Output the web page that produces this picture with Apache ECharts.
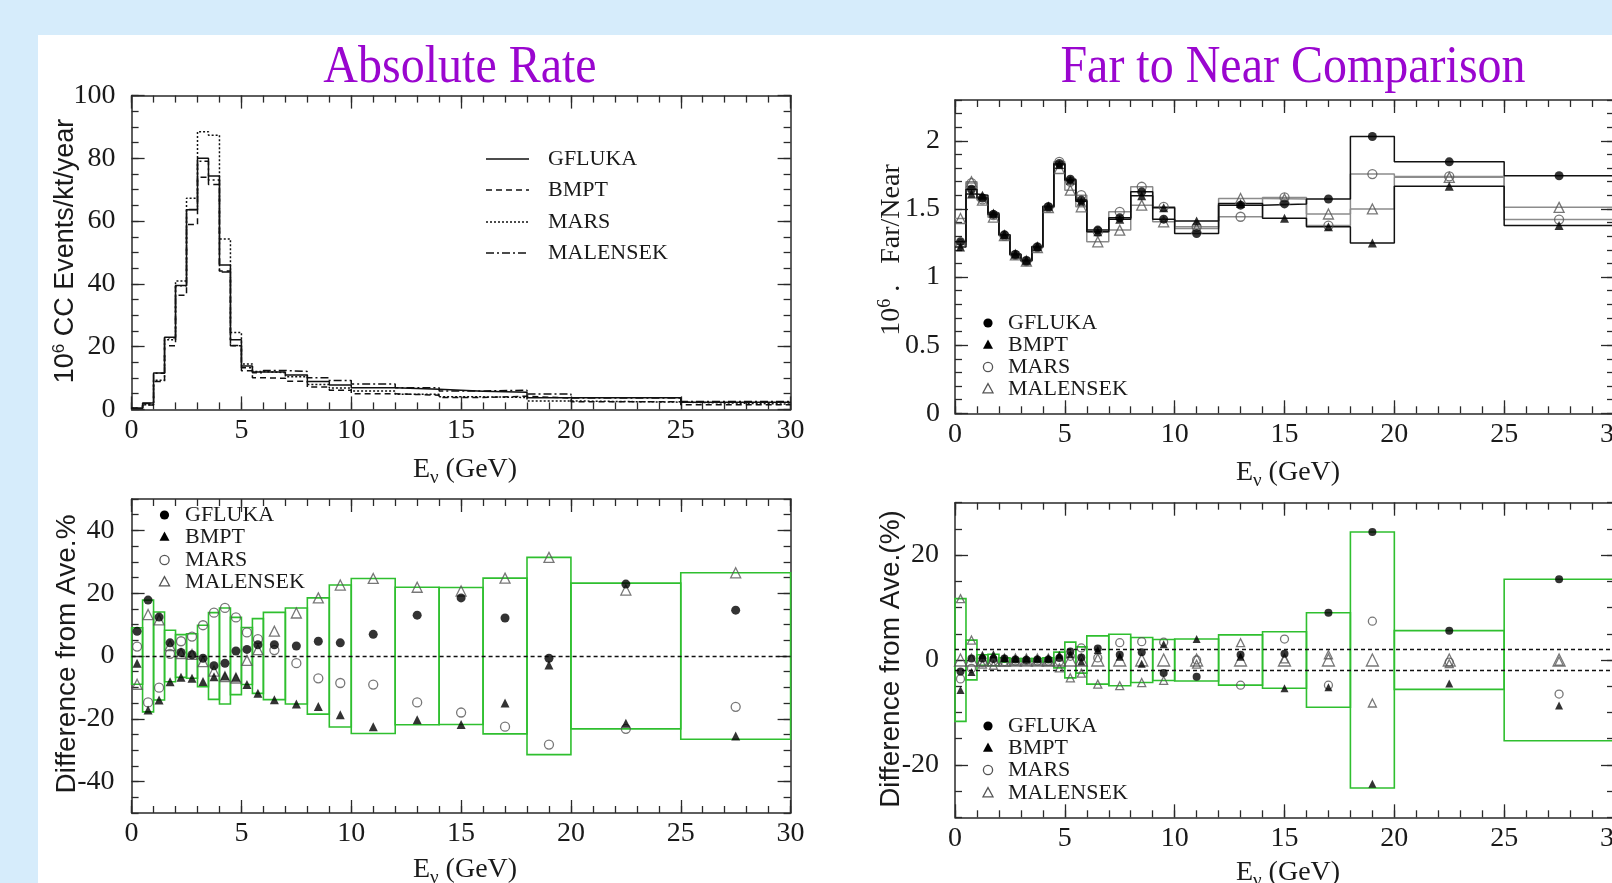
<!DOCTYPE html>
<html><head><meta charset="utf-8">
<script src="https://cdn.jsdelivr.net/npm/echarts@6/dist/echarts.min.js"></script>
<style>html,body{margin:0;padding:0;background:#d6ecfb;}#c{width:1612px;height:883px;}</style>
</head><body><div id="c"></div>
<script>
// ---------- data ----------
const binEdges = [0,0.5,1,1.5,2,2.5,3,3.5,4,4.5,5,5.5,6,7,8,9,10,12,14,16,18,20,25,30];
const seriesNames = ['GFLUKA','BMPT','MARS','MALENSEK'];

// Absolute rate (10^6 CC events/kt/year) per bin
const rateGFLUKA   = [0.4,2.0,11.6,23.0,39.5,63.6,80.0,74.4,46.0,22.2,13.8,11.9,11.9,11.0,8.9,7.8,6.9,6.4,5.8,5.5,3.7,3.7,2.3];
const rateBMPT     = [0.36,1.41,8.9,20.3,36.4,58.9,74.0,71.7,44.1,20.4,12.3,10.1,9.9,9.0,7.1,6.1,5.0,4.5,3.8,4.2,3.6,2.4,1.5];
const rateMARS     = [0.38,1.45,9.3,22.2,40.9,67.3,88.5,87.4,54.3,24.5,14.5,12.1,11.7,10.4,7.9,6.8,5.9,4.8,4.0,3.8,2.7,2.3,1.7];
const rateMALENSEK = [0.34,1.92,11.5,22.8,39.4,63.7,79.1,73.1,43.8,20.3,13.3,11.7,12.4,12.1,10.1,9.2,8.1,6.9,5.9,6.1,4.9,3.6,2.5];

// Absolute rate: difference from average (%)
const diffGFLUKA   = [7.9,17.8,12.4,4.2,1.1,0.4,-0.7,-3.1,-2.3,1.6,2.1,3.6,3.6,3.2,4.7,4.2,6.9,13.0,18.5,12.1,-0.7,22.9,14.6];
const diffBMPT     = [-2.3,-17.2,-14.0,-8.2,-6.8,-7.1,-8.1,-6.6,-6.4,-6.8,-9.1,-11.9,-13.9,-15.3,-16.1,-18.7,-22.5,-20.3,-21.8,-15.0,-2.9,-21.4,-25.5];
const diffMARS     = [3.0,-14.8,-10.1,0.7,4.7,6.2,9.8,13.8,15.3,12.3,7.5,5.4,1.9,-2.3,-7.1,-8.6,-9.1,-14.8,-18.0,-22.5,-28.2,-23.2,-16.2];
const diffMALENSEK = [-9.0,13.2,11.5,3.3,0.8,0.5,-1.8,-4.8,-6.6,-7.0,-1.4,2.0,7.9,13.7,18.5,22.6,24.7,21.9,20.7,24.8,31.4,21.0,26.5];

// Far / Near ratio (x 10^6)
const ratioGFLUKA   = [1.26,1.645,1.58,1.46,1.31,1.166,1.12,1.22,1.516,1.834,1.719,1.565,1.345,1.435,1.626,1.425,1.32,1.528,1.537,1.573,2.032,1.846,1.744];
const ratioBMPT     = [1.22,1.61,1.60,1.47,1.31,1.17,1.123,1.225,1.52,1.826,1.71,1.557,1.333,1.425,1.597,1.509,1.411,1.54,1.432,1.37,1.251,1.666,1.378];
const ratioMARS     = [1.24,1.69,1.57,1.455,1.305,1.163,1.118,1.218,1.512,1.846,1.70,1.601,1.333,1.479,1.663,1.516,1.369,1.443,1.585,1.378,1.756,1.739,1.422];
const ratioMALENSEK = [1.43,1.70,1.565,1.44,1.305,1.163,1.118,1.217,1.51,1.797,1.638,1.516,1.259,1.345,1.528,1.406,1.357,1.577,1.573,1.463,1.50,1.732,1.512];

// Far / Near: difference from average (%)
const relGFLUKA   = [-2.2,0.3,0.3,0.2,0.3,0.1,0.0,0.1,0.1,0.4,1.6,0.5,2.2,1.0,1.5,-2.5,-3.2,1.0,1.2,9.0,24.4,5.6,15.4];
const relBMPT     = [-5.7,-2.3,1.0,1.1,0.4,0.3,0.3,0.3,0.4,1.0,1.1,-0.3,1.9,0.6,-0.7,3.0,4.0,0.6,-5.4,-5.2,-23.6,-4.5,-8.7];
const relMARS     = [-3.6,-1.6,-0.5,-0.3,-0.3,-0.2,-0.1,-0.2,-0.2,-0.3,0.7,2.3,0.4,3.3,3.5,3.4,0.0,-4.8,4.0,-4.8,7.4,-0.4,-6.5];
const relMALENSEK = [11.7,3.8,-0.8,-1.0,-0.4,-0.2,-0.2,-0.2,-0.3,-1.5,-3.4,-2.5,-4.6,-4.9,-4.3,-3.9,-0.8,3.3,0.2,1.0,-8.2,-0.7,-0.2];
const relCentre   = [0,0,0,0,0,0,0,0,0,0,0,0,0,0,0,0,0,0,0,0,0,0,0];
const bandLimits  = [2,-2];

const xTicks = [0,5,10,15,20,25,30];
const rateTicks = [0,20,40,60,80,100];
const ratioTicks = [0,0.5,1,1.5,2];
const diffTicks = [-40,-20,0,20,40];
const relTicks = [-20,0,20];

// ---------- helpers ----------
const SERIF = '"Liberation Serif", "Times New Roman", serif';
const SANS = '"Liberation Sans", Arial, sans-serif';
const INK = '#1a1a1a';
const GREEN = '#2fbf2f';
const PURPLE = '#9a06cf';

function stepData(vals){ return binEdges.map((e,i)=>[e, vals[Math.min(i, vals.length-1)]]); }
function pointData(vals){ return vals.map((v,i)=>[(binEdges[i]+binEdges[i+1])/2, v]); }
function boxData(a,b,c,d){
  return a.map((v,i)=>[binEdges[i], binEdges[i+1], Math.max(Math.abs(v),Math.abs(b[i]),Math.abs(c[i]),Math.abs(d[i]))]);
}

function axisGroup(dim, gridIndex, min, max, step, majors, margin){
  const isX = dim==='x';
  const p1 = isX?'bottom':'left', p2 = isX?'top':'right';
  const line = {show:true, onZero:false, lineStyle:{color:'#2a2a2a', width:1.5}};
  const noLine = {show:false, onZero:false};
  const ts = {color:'#2a2a2a', width:1.3};
  const base = {type:'value', gridIndex, min, max, splitLine:{show:false}};
  return [
    Object.assign({}, base, {position:p1, interval:step, axisLine:line,
      axisTick:{show:true, inside:true, length:7, lineStyle:ts},
      axisLabel:{show:true, customValues:majors, margin, fontFamily:SERIF, fontSize:28, color:INK}}),
    Object.assign({}, base, {position:p1, axisLine:noLine,
      axisTick:{show:true, inside:true, length:13, customValues:majors, lineStyle:ts}, axisLabel:{show:false}}),
    Object.assign({}, base, {position:p2, interval:step, axisLine:line,
      axisTick:{show:true, inside:true, length:7, lineStyle:ts}, axisLabel:{show:false}}),
    Object.assign({}, base, {position:p2, axisLine:noLine,
      axisTick:{show:true, inside:true, length:13, customValues:majors, lineStyle:ts}, axisLabel:{show:false}})
  ];
}

const FILLED = {color:'#000'};
const OPEN = {color:'rgba(255,255,255,0)', borderColor:'#555', borderWidth:1.3};
function scatter(ax, name, vals, symbol, style, size){
  return {name, type:'scatter', xAxisIndex:ax, yAxisIndex:ax, data:pointData(vals), symbol, symbolSize:size,
    itemStyle:style, z:6, silent:true};
}
function boxRender(params, api){
  const a = api.coord([api.value(0), api.value(2)]);
  const b = api.coord([api.value(1), -api.value(2)]);
  return {type:'rect', shape:{x:a[0], y:a[1], width:b[0]-a[0], height:b[1]-a[1]},
    style:{fill:'none', stroke:GREEN, lineWidth:1.6}};
}

// ---------- series ----------
const series = [];
// top-left: absolute rate histograms
[[ 'MALENSEK', rateMALENSEK, [8,3,2,3]], ['MARS', rateMARS, [2,2]], ['BMPT', rateBMPT, [6,4]], ['GFLUKA', rateGFLUKA, 'solid']]
.forEach(([n,v,t])=>series.push({name:n, type:'line', xAxisIndex:0, yAxisIndex:0, step:'end', data:stepData(v),
  symbol:'none', showSymbol:false, lineStyle:{color:'#111', width:1.5, type:t}, z:3, silent:true}));

// top-right: far/near step lines + markers
[['MALENSEK', ratioMALENSEK, '#8c8c8c'], ['MARS', ratioMARS, '#8c8c8c'], ['BMPT', ratioBMPT, '#111'], ['GFLUKA', ratioGFLUKA, '#111']]
.forEach(([n,v,c])=>series.push({name:n, type:'line', xAxisIndex:4, yAxisIndex:4, step:'end', data:stepData(v),
  symbol:'none', showSymbol:false, lineStyle:{color:c, width:1.5}, z:3, silent:true}));
series.push(scatter(4,'MALENSEK',ratioMALENSEK,'triangle',OPEN,10));
series.push(scatter(4,'MARS',ratioMARS,'circle',OPEN,9));
series.push(scatter(4,'BMPT',ratioBMPT,'triangle',FILLED,9));
series.push(scatter(4,'GFLUKA',ratioGFLUKA,'circle',FILLED,9));

// bottom-left: differences of absolute rate
series.push({type:'custom', xAxisIndex:8, yAxisIndex:8, renderItem:boxRender,
  data:boxData(diffGFLUKA,diffBMPT,diffMARS,diffMALENSEK), encode:{x:[0,1], y:2}, z:2, silent:true});
const blG = scatter(8,'GFLUKA',diffGFLUKA,'circle',FILLED,9);
blG.markLine = {silent:true, symbol:['none','none'], label:{show:false}, animation:false,
  lineStyle:{color:'#111', type:[4,3], width:1.4}, data:[{yAxis:0}]};
series.push(scatter(8,'MALENSEK',diffMALENSEK,'triangle',OPEN,10));
series.push(scatter(8,'MARS',diffMARS,'circle',OPEN,9));
series.push(scatter(8,'BMPT',diffBMPT,'triangle',FILLED,9));
series.push(blG);

// bottom-right: differences of far/near
series.push({type:'custom', xAxisIndex:12, yAxisIndex:12, renderItem:boxRender,
  data:boxData(relGFLUKA,relBMPT,relMARS,relMALENSEK), encode:{x:[0,1], y:2}, z:2, silent:true});
const brG = scatter(12,'GFLUKA',relGFLUKA,'circle',FILLED,8);
brG.markLine = {silent:true, symbol:['none','none'], label:{show:false}, animation:false,
  lineStyle:{color:'#111', type:[4,3], width:1.4}, data:bandLimits.map(v=>({yAxis:v}))};
series.push(scatter(12,'centre',relCentre,'triangle',OPEN,12));
series.push(scatter(12,'MALENSEK',relMALENSEK,'triangle',OPEN,8));
series.push(scatter(12,'MARS',relMARS,'circle',OPEN,8));
series.push(scatter(12,'BMPT',relBMPT,'triangle',FILLED,8));
series.push(brG);

// ---------- graphics (background, titles, axis names, legends) ----------
function text(x, y, str, font, extra){
  return Object.assign({type:'text', x, y, z:100, silent:true,
    style:{text:str, font, fill:INK, textAlign:'center', textVerticalAlign:'middle'}}, extra||{});
}
function richText(x, y, str, rich, extra){
  return Object.assign({type:'text', x, y, z:100, silent:true,
    style:{text:str, rich, fill:INK, textAlign:'center', textVerticalAlign:'middle'}}, extra||{});
}
function title(x, y, str){
  return {type:'text', x, y, z:100, silent:true, scaleY:1.12,
    style:{text:str, font:'48px '+SERIF, fill:PURPLE, textAlign:'center', textVerticalAlign:'middle'}};
}
const evRich = {a:{fontFamily:SERIF, fontSize:28, fill:INK}, s:{fontFamily:SERIF, fontSize:19, fill:INK, padding:[16,0,0,0]}};
const evStr = '{a|E}{s|ν}{a| (GeV)}';

function marker(kind, cx, cy){
  const r = 4.6;
  if (kind==='dot') return {type:'circle', z:100, silent:true, shape:{cx, cy, r}, style:{fill:'#000'}};
  if (kind==='ring') return {type:'circle', z:100, silent:true, shape:{cx, cy, r}, style:{fill:'none', stroke:'#555', lineWidth:1.3}};
  const pts = [[cx, cy-5.4], [cx-5, cy+3.8], [cx+5, cy+3.8]];
  if (kind==='tri') return {type:'polygon', z:100, silent:true, shape:{points:pts}, style:{fill:'#000'}};
  return {type:'polygon', z:100, silent:true, shape:{points:pts}, style:{fill:'none', stroke:'#555', lineWidth:1.3}};
}
const markerKinds = ['dot','tri','ring','otri'];
function markerLegend(mx, tx, rows){
  const out = [];
  seriesNames.forEach((n,i)=>{
    out.push(marker(markerKinds[i], mx, rows[i]));
    const t = text(tx, rows[i], n, '22px '+SERIF); t.style.textAlign = 'left';
    out.push(t);
  });
  return out;
}

const graphic = [
  {type:'rect', z:-100, silent:true, shape:{x:38, y:35, width:1574, height:848}, style:{fill:'#ffffff'}},
  title(460, 68, 'Absolute Rate'),
  title(1293, 68, 'Far to Near Comparison'),
  richText(465, 470, evStr, evRich),
  richText(1288, 473, evStr, evRich),
  richText(465, 870, evStr, evRich),
  richText(1288, 873, evStr, evRich),
  richText(66, 251, '{a|10}{p|6}{a| CC Events/kt/year}',
    {a:{fontFamily:SANS, fontSize:27, fill:INK}, p:{fontFamily:SANS, fontSize:17, fill:INK, padding:[0,0,14,0]}}, {rotation:Math.PI/2}),
  richText(892, 250, '{a|10}{p|6}{a| .   Far/Near}',
    {a:{fontFamily:SERIF, fontSize:28, fill:INK}, p:{fontFamily:SERIF, fontSize:18, fill:INK, padding:[0,0,14,0]}}, {rotation:Math.PI/2}),
  text(67, 654, 'Difference from Ave.%', '28px '+SANS, {rotation:Math.PI/2}),
  text(891, 659, 'Difference from Ave.(%)', '28px '+SANS, {rotation:Math.PI/2})
];
// top-left legend (line samples)
const tlLegendRows = [159, 190, 222, 253];
const tlDash = [null, [6,4], [2,2], [8,3,2,3]];
seriesNames.forEach((n,i)=>{
  graphic.push({type:'line', z:100, silent:true, shape:{x1:486, y1:tlLegendRows[i], x2:529, y2:tlLegendRows[i]},
    style:{stroke:'#111', lineWidth:1.5, lineDash:tlDash[i]}});
  const t = text(548, tlLegendRows[i], n, '22px '+SERIF); t.style.textAlign='left'; graphic.push(t);
});
graphic.push(...markerLegend(988, 1008, [323, 345, 367, 389]));
graphic.push(...markerLegend(164.5, 185, [515, 537, 560, 582]));
graphic.push(...markerLegend(988, 1008, [726, 748, 770, 793]));

const grids = [
  {left:131.6, top:95.6, width:659, height:313.8},
  {left:955, top:100, width:659, height:313.3},
  {left:131.6, top:499, width:659, height:314},
  {left:955, top:502.7, width:659, height:314.6}
].map(g=>Object.assign(g, {containLabel:false, outerBoundsMode:'none', show:false}));

const option = {
  animation:false,
  backgroundColor:'#d6ecfb',
  grid:grids,
  xAxis:[
    ...axisGroup('x',0,0,30,1,xTicks,7),
    ...axisGroup('x',1,0,30,1,xTicks,7),
    ...axisGroup('x',2,0,30,1,xTicks,7),
    ...axisGroup('x',3,0,30,1,xTicks,7)
  ],
  yAxis:[
    ...axisGroup('y',0,0,100,5,rateTicks,16),
    ...axisGroup('y',1,0,2.3,0.1,ratioTicks,15),
    ...axisGroup('y',2,-50,50,5,diffTicks,17),
    ...axisGroup('y',3,-30,30,5,relTicks,16)
  ],
  series,
  graphic
};
const chart = echarts.init(document.getElementById('c'));
chart.setOption(option);
</script></body></html>
